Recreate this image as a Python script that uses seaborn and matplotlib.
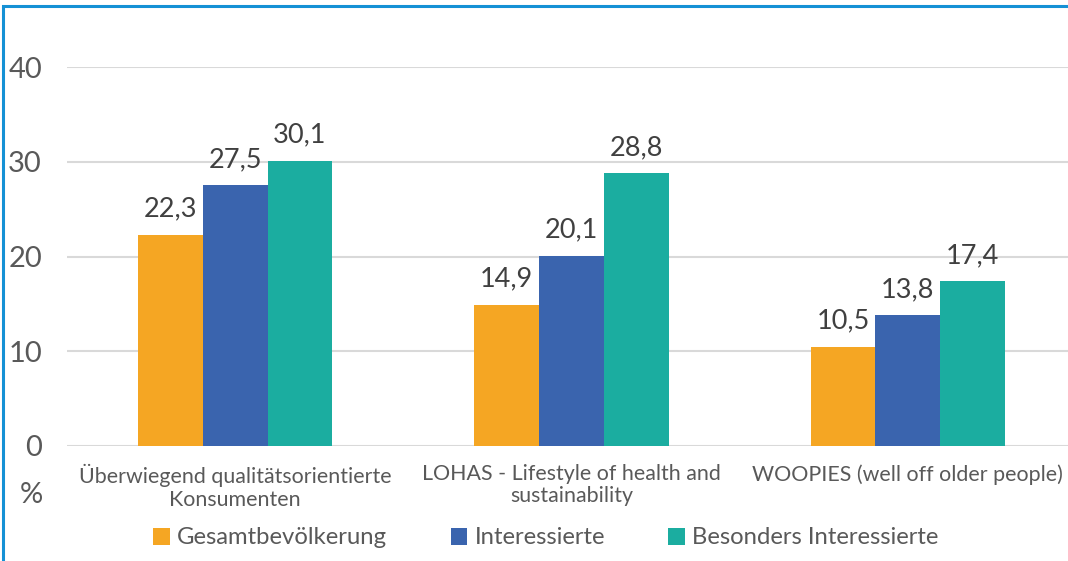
import pandas as pd
import matplotlib
matplotlib.use("Agg")
import matplotlib.pyplot as plt
import seaborn as sns
from matplotlib.patches import Rectangle, Patch

# data
categories = ["Überwiegend qualitätsorientierte\nKonsumenten",
              "LOHAS - Lifestyle of health and\nsustainability",
              "WOOPIES (well off older people)"]
series = ["Gesamtbevölkerung", "Interessierte", "Besonders Interessierte"]
gesamt = [22.3, 14.9, 10.5]
interessierte = [27.5, 20.1, 13.8]
besonders = [30.1, 28.8, 17.4]
yticks = [0, 10, 20, 30, 40]
colors = ["#F5A623", "#3A64AE", "#1BADA0"]

rows = []
for name, vals in zip(series, [gesamt, interessierte, besonders]):
    for cat, v in zip(categories, vals):
        rows.append({"Kategorie": cat, "Gruppe": name, "Wert": v})
df = pd.DataFrame(rows)

sns.set_style("white")
plt.rcParams["font.family"] = ["Lato", "DejaVu Sans"]
text_col = "#595959"

fig = plt.figure(figsize=(10.68, 5.61), dpi=100)
ax = fig.add_axes([67 / 1068, 115 / 561, 1009 / 1068, 379 / 561])

sns.barplot(data=df, x="Kategorie", y="Wert", hue="Gruppe", order=categories,
            hue_order=series, palette=colors, width=0.577, gap=0,
            saturation=1, linewidth=0, ax=ax, legend=False)

for cont in ax.containers:
    ax.bar_label(cont, labels=[f"{b.get_height():.1f}".replace(".", ",") for b in cont],
                 padding=9.5, fontsize=19.5, color="#404040")

ax.set_ylim(0, 40)
ax.set_yticks(yticks)
ax.set_yticklabels([str(t) for t in yticks], fontsize=21, color=text_col)
ax.tick_params(axis="y", length=0, pad=18)
ax.tick_params(axis="x", length=0, pad=13, labelsize=15.4, labelcolor=text_col)
for lbl in ax.get_xticklabels():
    lbl.set_linespacing(1.15)
ax.set_xlabel("")
ax.set_ylabel("")
ax.grid(axis="y", color="#D9D9D9", linewidth=1.5)
ax.set_axisbelow(True)
for s in ax.spines.values():
    s.set_visible(False)

fig.text(31 / 1068, 1 - 495 / 561, "%", fontsize=21, color=text_col,
         ha="center", va="center")

handles = [Patch(facecolor=c, edgecolor="none") for c in colors]
fig.legend(handles, series, loc="center", bbox_to_anchor=(546 / 1068, 1 - 538 / 561),
           ncol=3, frameon=False, fontsize=17.2, labelcolor=text_col,
           handlelength=0.7, handleheight=0.7, handletextpad=0.3,
           columnspacing=2.65)

# blue frame around the chart (cut at right and bottom)
fig.patches.append(Rectangle((3 / 1068, -0.1), 1.2, 1 - 6 / 561 + 0.1,
                             transform=fig.transFigure, fill=False,
                             edgecolor="#1591D5", linewidth=2.2))

fig.savefig("out.png", dpi=100)
